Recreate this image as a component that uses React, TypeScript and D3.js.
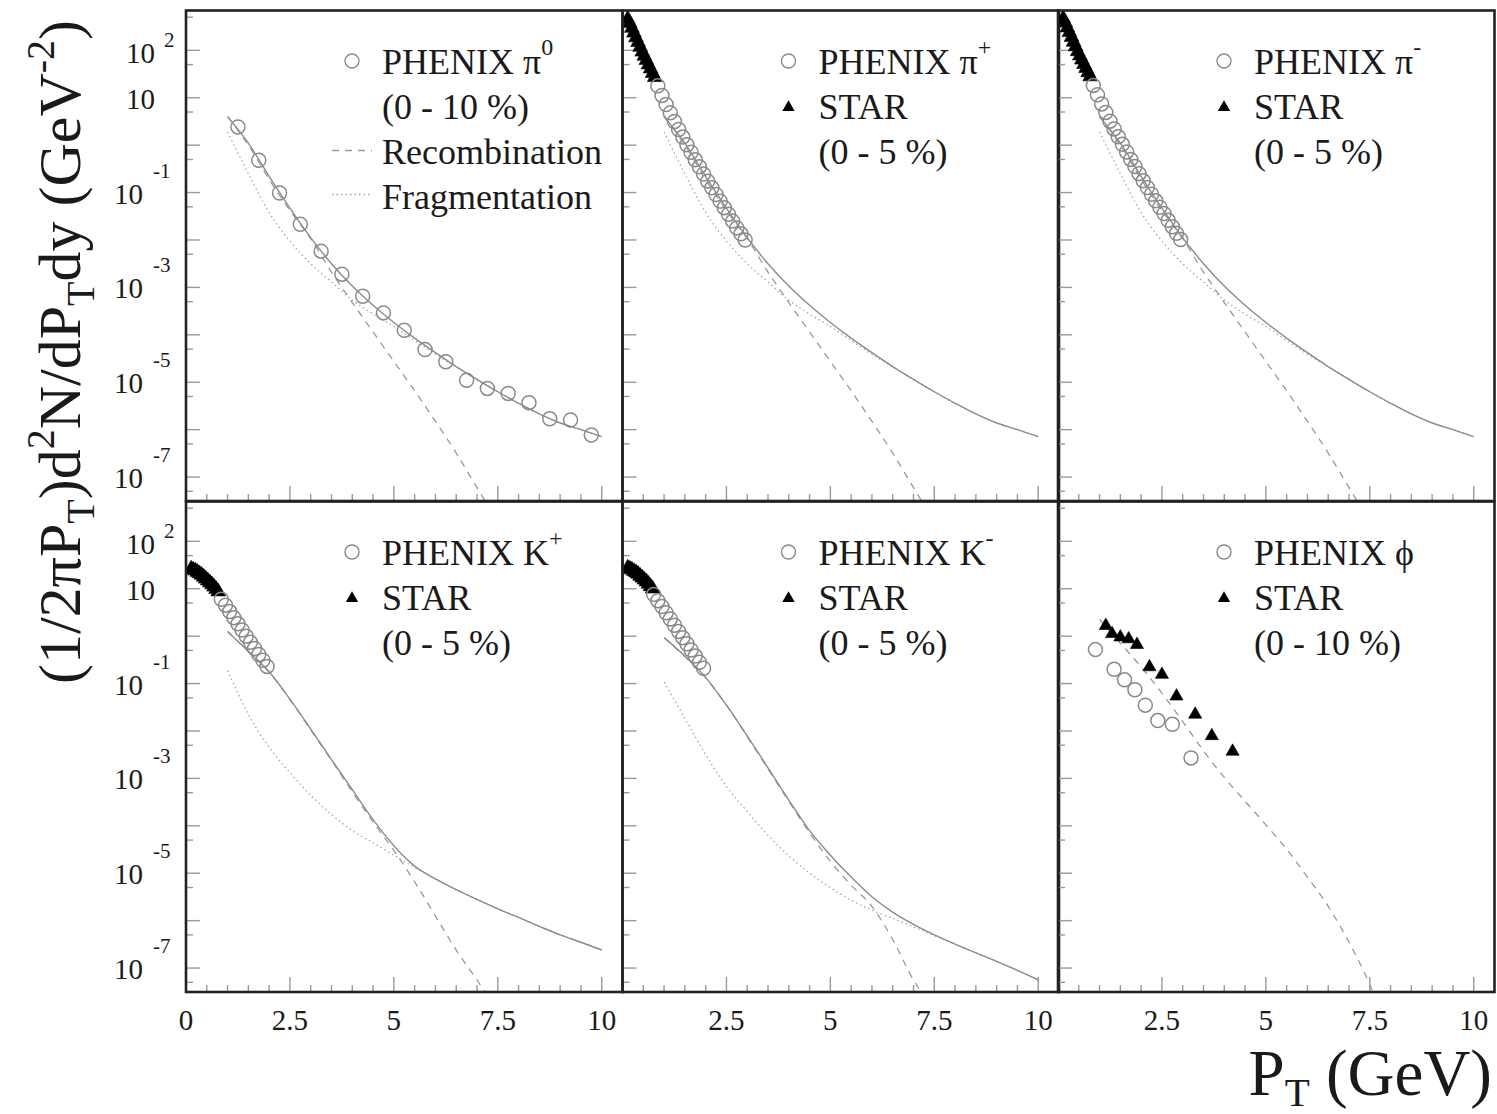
import React from 'react';
import * as d3 from 'd3';

const W = 1497;
const H = 1114;
const FONT = '"Liberation Serif", "Times New Roman", "DejaVu Serif", serif';

// ---------- layout ----------
const colX = [186, 622.5, 1058];
const rowY = [10.5, 501.5];
const PW = 436.5;
const PH = 490.5;
const X_DOMAIN = [0, 10.5];
const Y_DOMAIN = [Math.pow(10, -7.505), Math.pow(10, 2.84)];

// ---------- ticks ----------
const xMajorTicks = [0, 2.5, 5, 7.5, 10];
const xTickLabels = ['0', '2.5', '5', '7.5', '10'];
const yMajorExps = [-7, -6, -5, -4, -3, -2, -1, 0, 1, 2];
const yMinorVals = [5e-8, 5e-7, 5e-6, 5e-5, 5e-4, 5e-3, 5e-2, 5e-1, 5, 50, 500];
const yLabelExps = [2, 1, -1, -3, -5, -7];

// ---------- PHENIX pi0 (0-10%) ----------
const pi0Pt = [1.25, 1.75, 2.25, 2.75, 3.25, 3.75, 4.25, 4.75, 5.25, 5.75, 6.25, 6.75, 7.25, 7.75, 8.25, 8.75, 9.25, 9.75];
const pi0Yield = [2.42, 0.48, 0.098, 0.0215, 5.8e-3, 1.9e-3, 6.5e-4, 2.9e-4, 1.25e-4, 4.9e-5, 2.7e-5, 1.1e-5, 7.4e-6, 5.8e-6, 3.7e-6, 1.7e-6, 1.6e-6, 7.7e-7];

// ---------- charged pions ----------
const starPionPt = [0.125, 0.175, 0.225, 0.275, 0.325, 0.375, 0.425, 0.475, 0.525, 0.575, 0.625, 0.675, 0.725, 0.775];
const piPlusStar = [457, 372, 295, 234, 186, 148, 117, 93, 76, 62, 50, 41, 33, 27];
const piMinusStar = [470, 380, 300, 240, 190, 150, 120, 95, 77, 63, 51, 42, 34, 28];
const phenixPionPt = [0.85, 0.95, 1.05, 1.15, 1.25, 1.35, 1.45, 1.55, 1.65, 1.75, 1.85, 1.95, 2.05, 2.15, 2.25, 2.35, 2.45, 2.55, 2.65, 2.75, 2.85, 2.95];
const piPlusPhenix = [17.8, 11.2, 7.2, 4.8, 3.16, 2.14, 1.48, 1.02, 0.71, 0.49, 0.35, 0.245, 0.174, 0.126, 0.091, 0.066, 0.048, 0.035, 0.025, 0.018, 0.0135, 0.01];
const piMinusPhenix = [18.2, 11.5, 7.4, 4.9, 3.2, 2.2, 1.5, 1.04, 0.72, 0.5, 0.355, 0.25, 0.177, 0.128, 0.092, 0.067, 0.049, 0.036, 0.026, 0.019, 0.0138, 0.0102];

// ---------- kaons ----------
const kPlusStarPt = [0.125, 0.175, 0.225, 0.275, 0.325, 0.375, 0.425, 0.475, 0.525, 0.575, 0.625, 0.675, 0.725, 0.775];
const kPlusStar = [26.3, 25.1, 24.0, 22.4, 20.9, 19.5, 17.8, 16.2, 14.8, 13.5, 12.3, 11.0, 9.8, 8.7];
const kPlusPhenixPt = [0.85, 0.95, 1.05, 1.15, 1.25, 1.35, 1.45, 1.55, 1.65, 1.75, 1.85, 1.95];
const kPlusPhenix = [6.0, 4.5, 3.3, 2.45, 1.82, 1.35, 1.0, 0.74, 0.55, 0.41, 0.31, 0.23];
const kMinusStarPt = [0.125, 0.175, 0.225, 0.275, 0.325, 0.375, 0.425, 0.475, 0.525, 0.575, 0.625, 0.675, 0.725];
const kMinusStar = [27.5, 26.3, 25.1, 23.4, 21.9, 20.4, 18.6, 17.0, 15.5, 14.1, 12.6, 11.2, 10.0];
const kMinusPhenixPt = [0.75, 0.85, 0.95, 1.05, 1.15, 1.25, 1.35, 1.45, 1.55, 1.65, 1.75, 1.85, 1.95];
const kMinusPhenix = [7.6, 5.6, 4.2, 3.1, 2.3, 1.7, 1.26, 0.93, 0.69, 0.51, 0.38, 0.28, 0.21];

// ---------- phi ----------
const phiStarPt = [1.15, 1.3, 1.5, 1.7, 1.9, 2.2, 2.5, 2.85, 3.3, 3.7, 4.2];
const phiStar = [1.66, 1.12, 0.95, 0.87, 0.66, 0.224, 0.155, 0.054, 0.0224, 0.0079, 0.0037];
const phiPhenixPt = [0.9, 1.35, 1.6, 1.85, 2.1, 2.4, 2.75, 3.2];
const phiPhenix = [0.52, 0.2, 0.12, 0.074, 0.035, 0.0166, 0.0138, 0.0027];

// ---------- model curves ----------
const curvePt = [1.0, 1.5, 2.0, 2.5, 3.0, 3.5, 4.0, 4.5, 5.0, 5.5, 6.0, 6.5, 7.0, 7.5, 8.0, 8.5, 9.0, 9.5, 10.0];
const recoPt = [1.0, 1.5, 2.0, 2.5, 3.0, 3.5, 4.0, 4.5, 5.0, 5.5, 6.0, 6.5, 7.0, 7.25];
const phiRecoPt = [1.0, 1.5, 2.0, 2.5, 3.0, 3.5, 4.0, 4.5, 5.0, 5.5, 6.0, 6.5, 7.0, 7.5, 7.6];

const pionTotal = [4.0, 1.1, 0.22, 4.7e-2, 1.12e-2, 3.16e-3, 1.07e-3, 4.2e-4, 1.82e-4, 8.5e-5, 4.2e-5, 2.14e-5, 1.15e-5, 6.3e-6, 3.6e-6, 2.14e-6, 1.38e-6, 1.0e-6, 7.1e-7];
const pionReco = [4.0, 1.0, 0.19, 4.2e-2, 1.07e-2, 2.1e-3, 4.8e-4, 1.15e-4, 2.75e-5, 6.6e-6, 1.5e-6, 3.2e-7, 6.0e-8, 2.6e-8];
const pionFrag = [1.9, 0.25, 3.8e-2, 9.5e-3, 3.16e-3, 1.3e-3, 5.4e-4, 2.75e-4, 1.5e-4, 7.6e-5, 3.9e-5, 2.1e-5, 1.12e-5, 6.3e-6, 3.6e-6, 2.14e-6, 1.38e-6, 1.0e-6, 7.1e-7];

const kPlusTotal = [1.26, 0.48, 0.178, 4.7e-2, 1.1e-2, 2.5e-3, 5.8e-4, 1.35e-4, 3.8e-5, 1.41e-5, 7.6e-6, 4.5e-6, 2.8e-6, 1.78e-6, 1.17e-6, 7.6e-7, 5.0e-7, 3.5e-7, 2.4e-7];
const kPlusReco = [1.26, 0.47, 0.174, 4.6e-2, 1.05e-2, 2.4e-3, 5.2e-4, 1.2e-4, 3.0e-5, 6.6e-6, 1.26e-6, 2.4e-7, 5.6e-8, 2.6e-8];
const kPlusFrag = [0.19, 2.24e-2, 4.5e-3, 1.32e-3, 4.4e-4, 1.74e-4, 7.9e-5, 4.4e-5, 2.4e-5, 1.32e-5, 7.6e-6, 4.5e-6, 2.75e-6, 1.78e-6, 1.17e-6, 7.6e-7, 5.0e-7, 3.5e-7, 2.4e-7];

const kMinusTotal = [0.93, 0.38, 0.135, 3.5e-2, 7.9e-3, 1.66e-3, 3.5e-4, 7.9e-5, 2.4e-5, 8.3e-6, 3.2e-6, 1.51e-6, 8.3e-7, 5.0e-7, 3.2e-7, 2.1e-7, 1.38e-7, 8.9e-8, 5.6e-8];
const kMinusReco = [0.93, 0.37, 0.132, 3.5e-2, 7.6e-3, 1.58e-3, 3.3e-4, 7.1e-5, 1.78e-5, 5.6e-6, 2.0e-6, 4.0e-7, 5.6e-8, 2.6e-8];
const kMinusFrag = [0.107, 1.86e-2, 3.16e-3, 6.8e-4, 2.0e-4, 6.3e-5, 2.34e-5, 1.0e-5, 5.0e-6, 2.7e-6, 1.66e-6, 1.12e-6, 7.4e-7, 4.8e-7, 3.2e-7, 2.1e-7, 1.38e-7, 8.9e-8, 5.6e-8];

const phiReco = [2.24, 0.71, 0.224, 0.063, 0.0158, 3.8e-3, 1.05e-3, 3.3e-4, 1.05e-4, 3.2e-5, 8.3e-6, 2.0e-6, 3.5e-7, 4.5e-8, 2.8e-8];

// ---------- legends ----------
type LegendRow = { marker?: 'circle' | 'triangle' | 'dash' | 'dot'; text: string; sup?: string };
const legendPi0: LegendRow[] = [
  { marker: 'circle', text: 'PHENIX π', sup: '0' },
  { text: '(0 - 10 %)' },
  { marker: 'dash', text: 'Recombination' },
  { marker: 'dot', text: 'Fragmentation' },
];
const legendPiPlus: LegendRow[] = [
  { marker: 'circle', text: 'PHENIX π', sup: '+' },
  { marker: 'triangle', text: 'STAR' },
  { text: '(0 - 5 %)' },
];
const legendPiMinus: LegendRow[] = [
  { marker: 'circle', text: 'PHENIX π', sup: '-' },
  { marker: 'triangle', text: 'STAR' },
  { text: '(0 - 5 %)' },
];
const legendKPlus: LegendRow[] = [
  { marker: 'circle', text: 'PHENIX K', sup: '+' },
  { marker: 'triangle', text: 'STAR' },
  { text: '(0 - 5 %)' },
];
const legendKMinus: LegendRow[] = [
  { marker: 'circle', text: 'PHENIX K', sup: '-' },
  { marker: 'triangle', text: 'STAR' },
  { text: '(0 - 5 %)' },
];
const legendPhi: LegendRow[] = [
  { marker: 'circle', text: 'PHENIX ϕ' },
  { marker: 'triangle', text: 'STAR' },
  { text: '(0 - 10 %)' },
];

type Series = { pt: number[]; y: number[] };
type PanelDef = {
  col: number;
  row: number;
  phenix: Series;
  star?: Series;
  total?: Series;
  reco?: Series;
  frag?: Series;
  legend: LegendRow[];
};

const panels: PanelDef[] = [
  {
    col: 0, row: 0,
    phenix: { pt: pi0Pt, y: pi0Yield },
    total: { pt: curvePt, y: pionTotal },
    reco: { pt: recoPt, y: pionReco },
    frag: { pt: curvePt, y: pionFrag },
    legend: legendPi0,
  },
  {
    col: 1, row: 0,
    phenix: { pt: phenixPionPt, y: piPlusPhenix },
    star: { pt: starPionPt, y: piPlusStar },
    total: { pt: curvePt, y: pionTotal },
    reco: { pt: recoPt, y: pionReco },
    frag: { pt: curvePt, y: pionFrag },
    legend: legendPiPlus,
  },
  {
    col: 2, row: 0,
    phenix: { pt: phenixPionPt, y: piMinusPhenix },
    star: { pt: starPionPt, y: piMinusStar },
    total: { pt: curvePt, y: pionTotal },
    reco: { pt: recoPt, y: pionReco },
    frag: { pt: curvePt, y: pionFrag },
    legend: legendPiMinus,
  },
  {
    col: 0, row: 1,
    phenix: { pt: kPlusPhenixPt, y: kPlusPhenix },
    star: { pt: kPlusStarPt, y: kPlusStar },
    total: { pt: curvePt, y: kPlusTotal },
    reco: { pt: recoPt, y: kPlusReco },
    frag: { pt: curvePt, y: kPlusFrag },
    legend: legendKPlus,
  },
  {
    col: 1, row: 1,
    phenix: { pt: kMinusPhenixPt, y: kMinusPhenix },
    star: { pt: kMinusStarPt, y: kMinusStar },
    total: { pt: curvePt, y: kMinusTotal },
    reco: { pt: recoPt, y: kMinusReco },
    frag: { pt: curvePt, y: kMinusFrag },
    legend: legendKMinus,
  },
  {
    col: 2, row: 1,
    phenix: { pt: phiPhenixPt, y: phiPhenix },
    star: { pt: phiStarPt, y: phiStar },
    reco: { pt: phiRecoPt, y: phiReco },
    legend: legendPhi,
  },
];

// ---------- styles ----------
const TEXT_COLOR = '#1a1a1a';
const FRAME_COLOR = '#222';
const TICK_COLOR = '#9a9a9a';
const CIRCLE_COLOR = '#8a8a8a';
const SOLID_COLOR = '#8c8c8c';
const DASH_COLOR = '#9a9a9a';
const DOT_COLOR = '#a8a8a8';
const CIRCLE_R = 7;

function Panel({ p, idx }: { p: PanelDef; idx: number }) {
  const x0 = colX[p.col];
  const y0 = rowY[p.row];
  const x = d3.scaleLinear().domain(X_DOMAIN).range([x0, x0 + PW]);
  const y = d3.scaleLog().domain(Y_DOMAIN).range([y0 + PH, y0]);
  const mkLine = (s: Series) =>
    d3
      .line<number>()
      .x((_d, i) => x(s.pt[i]))
      .y((d) => y(d))
      .curve(d3.curveMonotoneX)(s.y) || '';
  const clipId = `clip-${idx}`;
  const denseStar = p.star && p.star.pt.length > 12;
  const tri = d3.symbol(d3.symbolTriangle, denseStar ? 95 : 75)() || '';
  const triLegend = d3.symbol(d3.symbolTriangle, 66)() || '';

  const legX = x0 + 196;
  const legMarkX = x0 + 166;
  const legBase0 = y0 + 63;
  const rowStep = 45;

  return (
    <g>
      <defs>
        <clipPath id={clipId}>
          <rect x={x0} y={y0} width={PW} height={PH} />
        </clipPath>
      </defs>
      {/* ticks */}
      <g stroke={TICK_COLOR} strokeWidth={1.4}>
        {yMajorExps.map((e) => (
          <line key={'ym' + e} x1={x0} x2={x0 + 14} y1={y(Math.pow(10, e))} y2={y(Math.pow(10, e))} />
        ))}
        {yMinorVals
          .filter((v) => v > Y_DOMAIN[0] && v < Y_DOMAIN[1])
          .map((v) => (
            <line key={'yn' + v} x1={x0} x2={x0 + 7} y1={y(v)} y2={y(v)} />
          ))}
        {d3.range(0, 10.01, 0.5).map((v) => {
          const major = Math.abs(v / 2.5 - Math.round(v / 2.5)) < 1e-6;
          return <line key={'xt' + v} x1={x(v)} x2={x(v)} y1={y0 + PH} y2={y0 + PH - (major ? 15 : 7)} />;
        })}
      </g>
      {/* curves */}
      <g clipPath={`url(#${clipId})`} fill="none">
        {p.frag && <path d={mkLine(p.frag)} stroke={DOT_COLOR} strokeWidth={1.3} strokeDasharray="1.5,3" />}
        {p.reco && <path d={mkLine(p.reco)} stroke={DASH_COLOR} strokeWidth={1.3} strokeDasharray="7,6" />}
        {p.total && <path d={mkLine(p.total)} stroke={SOLID_COLOR} strokeWidth={1.4} />}
        {p.star &&
          p.star.y.map((v, i) => (
            <path key={'s' + i} d={tri} transform={`translate(${x(p.star!.pt[i])},${y(v)})`} fill="#000" stroke="#000" strokeWidth={0.6} />
          ))}
        {p.phenix.y.map((v, i) => (
          <circle key={'c' + i} cx={x(p.phenix.pt[i])} cy={y(v)} r={CIRCLE_R} fill="none" stroke={CIRCLE_COLOR} strokeWidth={1.5} />
        ))}
      </g>
      {/* legend */}
      <g fontFamily={FONT} fill={TEXT_COLOR}>
        {p.legend.map((r, i) => {
          const base = legBase0 + i * rowStep;
          return (
            <g key={'lg' + i}>
              {r.marker === 'circle' && (
                <circle cx={legMarkX} cy={base - 12.5} r={7} fill="none" stroke={CIRCLE_COLOR} strokeWidth={1.4} />
              )}
              {r.marker === 'triangle' && <path d={triLegend} transform={`translate(${legMarkX},${base - 11})`} fill="#000" />}
              {r.marker === 'dash' && (
                <line x1={x0 + 146} x2={x0 + 186} y1={base - 13} y2={base - 13} stroke={DASH_COLOR} strokeWidth={1.3} strokeDasharray="7,6" />
              )}
              {r.marker === 'dot' && (
                <line x1={x0 + 146} x2={x0 + 186} y1={base - 14} y2={base - 14} stroke={DOT_COLOR} strokeWidth={1.3} strokeDasharray="1.5,3" />
              )}
              <text x={legX} y={base} fontSize={36}>
                {r.text}
                {r.sup && (
                  <tspan fontSize={24} dy={-19}>
                    {r.sup}
                  </tspan>
                )}
              </text>
            </g>
          );
        })}
      </g>
      {/* y labels */}
      {p.col === 0 && (
        <g fontFamily={FONT} fill={TEXT_COLOR}>
          {yLabelExps.map((e) => {
            const ty = y(Math.pow(10, e));
            if (e === 1) {
              return (
                <text key={'yl' + e} x={x0 - 31} y={ty + 11} fontSize={29} textAnchor="end">
                  10
                </text>
              );
            }
            if (e > 0) {
              return (
                <g key={'yl' + e}>
                  <text x={x0 - 31} y={ty + 13} fontSize={29} textAnchor="end">10</text>
                  <text x={x0 - 22} y={ty - 3} fontSize={21}>{String(e)}</text>
                </g>
              );
            }
            return (
              <g key={'yl' + e}>
                <text x={x0 - 43} y={ty + 11} fontSize={29} textAnchor="end">10</text>
                <text x={x0 - 33} y={ty - 15} fontSize={21}>{'-' + String(-e)}</text>
              </g>
            );
          })}
        </g>
      )}
      {/* x labels */}
      {p.row === 1 && (
        <g fontFamily={FONT} fill={TEXT_COLOR} fontSize={29} textAnchor="middle">
          {xMajorTicks.map((v, i) =>
            p.col > 0 && v === 0 ? null : (
              <text key={'xl' + v} x={x(v)} y={y0 + PH + 38}>
                {xTickLabels[i]}
              </text>
            )
          )}
        </g>
      )}
      {/* frame */}
      <rect x={x0} y={y0} width={PW} height={PH} fill="none" stroke={FRAME_COLOR} strokeWidth={2.6} />
    </g>
  );
}

export default function App() {
  return (
    <svg
      width={W}
      height={H}
      viewBox={`0 0 ${W} ${H}`}
      style={{ position: 'absolute', left: 0, top: 0, background: '#fff' }}
    >
      <rect x={0} y={0} width={W} height={H} fill="#fff" />
      {panels.map((p, i) => (
        <Panel key={i} p={p} idx={i} />
      ))}
      {/* y axis title */}
      <text
        transform="translate(80,352) rotate(-90)"
        textAnchor="middle"
        fontFamily={FONT}
        fontSize={60}
        fill={TEXT_COLOR}
      >
        <tspan>(1/2πP</tspan>
        <tspan fontSize={40} dy={14}>T</tspan>
        <tspan dy={-14}>)d</tspan>
        <tspan fontSize={40} dy={-26}>2</tspan>
        <tspan dy={26}>N/dP</tspan>
        <tspan fontSize={40} dy={14}>T</tspan>
        <tspan dy={-14}>dy (GeV</tspan>
        <tspan fontSize={40} dy={-26}>-2</tspan>
        <tspan dy={26}>)</tspan>
      </text>
      {/* x axis title */}
      <text x={1492} y={1095} textAnchor="end" fontFamily={FONT} fontSize={65} fill={TEXT_COLOR}>
        <tspan>P</tspan>
        <tspan fontSize={41} dy={11}>T</tspan>
        <tspan dy={-11}>{'\u00a0(GeV)'}</tspan>
      </text>
    </svg>
  );
}
